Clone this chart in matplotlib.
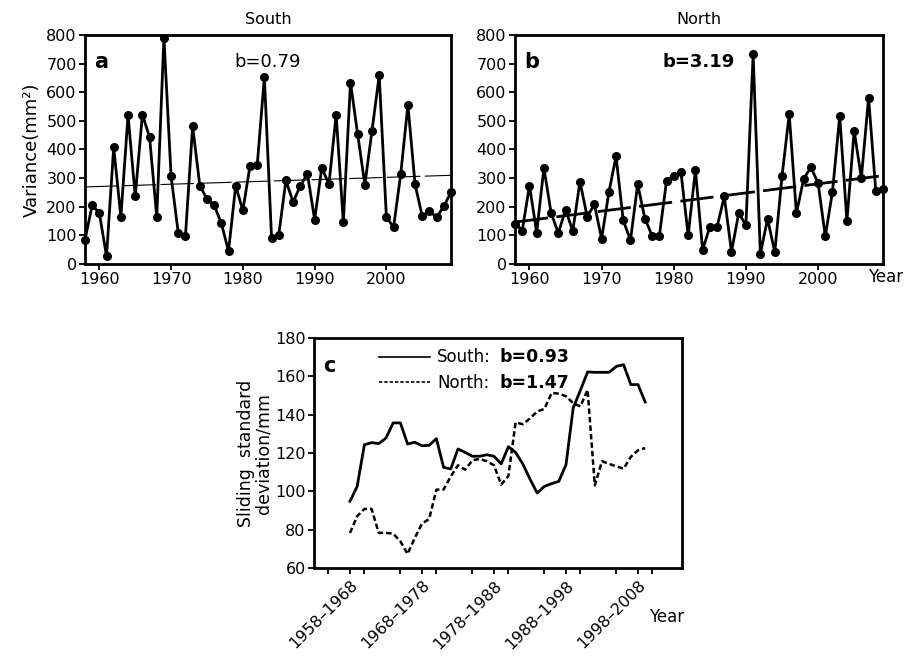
import matplotlib
matplotlib.use("Agg")
import matplotlib.pyplot as plt
from matplotlib.lines import Line2D
from matplotlib.ticker import MultipleLocator
import numpy as np

plt.rcParams["font.family"] = ["DejaVu Sans"]

# ── Data ─────────────────────────────────────────────────────────────────────
years = np.arange(1958, 2010)

south_var = [85, 205, 178, 27, 408, 164, 520, 236, 522, 443,
             164, 791, 306, 108, 99, 481, 274, 227, 206, 142,
             45, 273, 187, 344, 345, 653, 90, 101, 292, 216,
             273, 315, 155, 336, 279, 522, 145, 634, 453, 277,
             466, 659, 165, 128, 314, 556, 278, 167, 184, 164,
             201, 251]

north_var = [141, 117, 274, 110, 336, 178, 108, 190, 115, 288,
             165, 208, 88, 250, 376, 152, 83, 279, 158, 99,
             98, 291, 308, 320, 100, 329, 49, 130, 129, 236,
             43, 177, 137, 733, 35, 158, 41, 306, 523, 177,
             297, 338, 283, 97, 253, 517, 150, 465, 301, 580,
             256, 263]

# sliding 11-yr windows, indexed by start year
win_start = np.arange(1958, 2000)
south_sd = [94.8, 102.6, 124.3, 125.4, 124.9, 127.8, 135.7, 135.7, 124.7, 125.6,
            123.8, 124.0, 127.5, 112.5, 111.7, 122.1, 120.3, 118.3, 118.3, 119.1,
            118.3, 114.3, 123.3, 120.3, 114.3, 106.4, 99.1, 102.6, 104.0, 105.2,
            113.9, 143.5, 152.7, 162.3, 162.1, 162.1, 162.1, 165.2, 166.1, 155.7,
            155.7, 146.6]
north_sd = [78.3, 87.0, 90.8, 90.8, 78.3, 78.3, 77.9, 73.9, 67.3, 75.7,
            83.1, 85.6, 100.9, 100.9, 107.8, 113.6, 111.3, 116.2, 116.9, 115.7,
            113.6, 103.5, 108.0, 136.0, 135.0, 138.0, 141.7, 143.0, 151.3, 151.0,
            149.6, 146.0, 144.3, 153.0, 103.1, 115.7, 114.3, 113.0, 111.8, 118.0,
            121.4, 122.6]

win_ticks = [1958, 1968, 1978, 1988, 1998]
win_labels = ["1958–1968", "1968–1978", "1978–1988", "1988–1998", "1998–2008"]

slope_text = {"a": "b=0.79", "b": "b=3.19"}
legend_names = ["South:", "North:"]
legend_slopes = ["b=0.93", "b=1.47"]

# ── Figure ───────────────────────────────────────────────────────────────────
fig = plt.figure(figsize=(9.09, 6.58), dpi=100)
ax_a = fig.add_axes([0.0935, 0.5988, 0.4026, 0.348])
ax_b = fig.add_axes([0.5666, 0.5988, 0.4048, 0.348])
ax_c = fig.add_axes([0.3454, 0.1368, 0.4048, 0.3495])


def style(ax):
    for sp in ax.spines.values():
        sp.set_linewidth(2)
    ax.tick_params(direction="out", width=1.3, length=4, labelsize=11.5, pad=2)


for ax, data, title, lab in [(ax_a, south_var, "South", "a"),
                             (ax_b, north_var, "North", "b")]:
    style(ax)
    ax.plot(years, data, color="black", lw=2, marker="o", ms=5.5, clip_on=False, zorder=3)
    coef = np.polyfit(years, data, 1)
    fit = np.polyval(coef, years)
    if lab == "a":
        ax.plot(years, fit, color="black", lw=0.8, dashes=(30, 4), zorder=2)
        ax.text(0.5, 0.88, slope_text[lab], transform=ax.transAxes,
                fontsize=13, ha="center", va="center")
    else:
        ax.plot(years, fit, color="black", lw=2, dashes=(12, 3), zorder=2)
        ax.text(0.5, 0.88, slope_text[lab], transform=ax.transAxes,
                fontsize=13, ha="center", va="center", fontweight="bold")
    ax.text(0.025, 0.88, lab, transform=ax.transAxes, fontsize=15,
            fontweight="bold", ha="left", va="center")
    ax.set_xlim(1958, 2009)
    ax.set_ylim(0, 800)
    ax.set_xticks([1960, 1970, 1980, 1990, 2000])
    ax.set_yticks(range(0, 801, 100))
    ax.set_title(title, fontsize=11.5, pad=8)

ax_a.set_ylabel("Variance(mm²)", fontsize=13, labelpad=4)
ax_b.text(1.008, -0.057, "Year", transform=ax_b.transAxes, fontsize=12,
          ha="center", va="center")

# ── Panel c ──────────────────────────────────────────────────────────────────
style(ax_c)
ax_c.plot(win_start, south_sd, color="black", lw=2)
ax_c.plot(win_start, north_sd, color="black", lw=1.8, dashes=(2.2, 1.2))
ax_c.set_xlim(1953, 2004.1)
ax_c.set_ylim(60, 180)
ax_c.set_yticks(range(60, 181, 20))
ax_c.set_xticks(win_ticks)
ax_c.set_xticklabels(win_labels, rotation=45, ha="right", va="top",
                     rotation_mode="anchor", fontsize=11.5)
ax_c.xaxis.set_minor_locator(MultipleLocator(5))
ax_c.tick_params(axis="x", which="both", direction="out", width=1.3, length=4, pad=3)
ax_c.set_ylabel("Sliding  standard\ndeviation/mm", fontsize=12.5,
                linespacing=0.95, labelpad=2)
ax_c.text(0.025, 0.88, "c", transform=ax_c.transAxes, fontsize=15,
          fontweight="bold", ha="left", va="center")
ax_c.text(0.959, -0.213, "Year", transform=ax_c.transAxes, fontsize=12,
          ha="center", va="center")

handles = [Line2D([], [], color="black", lw=1.2),
           Line2D([], [], color="black", lw=1.2, dashes=(2, 1.2))]
ax_c.legend(handles, legend_names, loc="upper left",
            bbox_to_anchor=(0.135, 1.02), frameon=False, fontsize=12,
            handlelength=3.1, handletextpad=0.4, labelspacing=0.45)
for y, slope in zip([0.917, 0.806], legend_slopes):
    ax_c.text(0.505, y, slope, transform=ax_c.transAxes, ha="left", va="center",
              fontsize=12.5, fontweight="bold")

fig.savefig("out.png", dpi=100)
